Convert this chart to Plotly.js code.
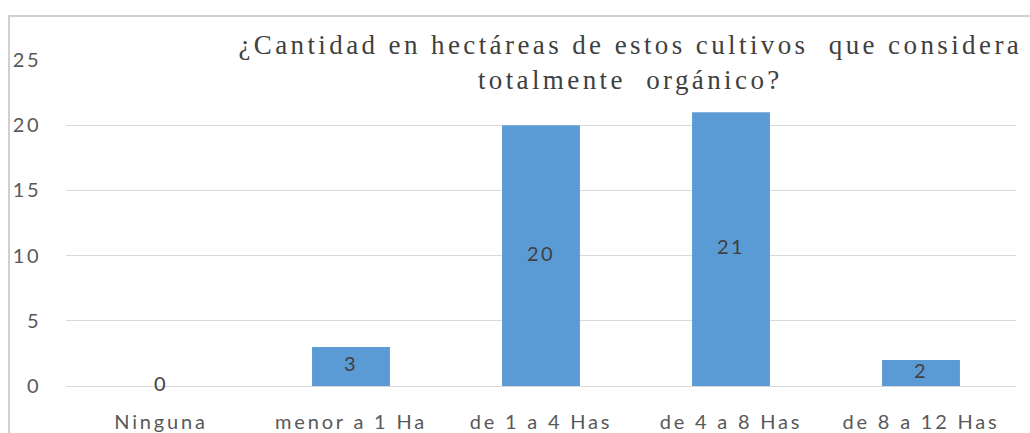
<!DOCTYPE html>
<html>
<head>
<meta charset="utf-8">
<script src="https://cdn.plot.ly/plotly-3.0.1.min.js"></script>
<style>
  html, body { margin: 0; padding: 0; background: #ffffff; }
  #chart { width: 1030px; height: 433px; }
  #chart .xtick text { letter-spacing: 2.8px; }
  #chart .ytick text { letter-spacing: 2.5px; }
  #chart .gtitle { letter-spacing: 3.4px; }
  #chart .textpoint text { letter-spacing: 2.5px; }
</style>
</head>
<body>
<div id="chart"></div>
<script>
const categories = ["Ninguna", "menor a 1 Ha", "de 1 a 4 Has", "de 4 a 8 Has", "de 8 a 12 Has"];
const values = [0, 3, 20, 21, 2];
const yTicks = [0, 5, 10, 15, 20, 25];
const titleText = "¿Cantidad en hectáreas de estos cultivos  que considera<br>totalmente  orgánico?";

const barTrace = {
  type: "bar",
  x: categories,
  y: values,
  marker: { color: "#5B9BD5", line: { width: 0 } },
  hoverinfo: "x+y",
  showlegend: false
};

const labelTrace = {
  type: "scatter",
  mode: "text",
  x: categories,
  y: values.map(v => v / 2),
  text: values.map(v => String(v)),
  textposition: "middle center",
  textfont: { family: "Lato", size: 20, color: "#404040" },
  hoverinfo: "skip",
  cliponaxis: false,
  showlegend: false
};

const layout = {
  width: 1030,
  height: 433,
  margin: { l: 66, r: 14, t: 60, b: 47 },
  paper_bgcolor: "#ffffff",
  plot_bgcolor: "#ffffff",
  bargap: 0.59,
  title: {
    text: titleText,
    font: { family: "Times New Roman, Liberation Serif, DejaVu Serif, serif", size: 27, color: "#404040" },
    xref: "paper",
    x: 0.594,
    xanchor: "center",
    yref: "container",
    y: 0.875,
    yanchor: "top"
  },
  xaxis: {
    type: "category",
    showgrid: false,
    showline: false,
    zeroline: false,
    ticks: "",
    ticklabelstandoff: 22,
    tickfont: { family: "Lato", size: 20, color: "#595959" }
  },
  yaxis: {
    range: [0, 25],
    tickvals: yTicks,
    ticktext: yTicks.map(String),
    showgrid: true,
    gridcolor: "#D9D9D9",
    gridwidth: 1,
    zeroline: true,
    zerolinecolor: "#D9D9D9",
    zerolinewidth: 1,
    showline: false,
    ticks: "",
    ticklabelstandoff: 24,
    tickfont: { family: "Lato", size: 20, color: "#595959" }
  },
  shapes: [{
    type: "rect",
    xref: "paper",
    yref: "paper",
    x0: -0.06, x1: 1.2,
    y0: -0.4, y1: 1.135,
    line: { color: "#D0D0D0", width: 2 },
    fillcolor: "rgba(0,0,0,0)",
    layer: "below"
  }]
};

Plotly.newPlot("chart", [barTrace, labelTrace], layout, { displayModeBar: false, staticPlot: true });
</script>
</body>
</html>
